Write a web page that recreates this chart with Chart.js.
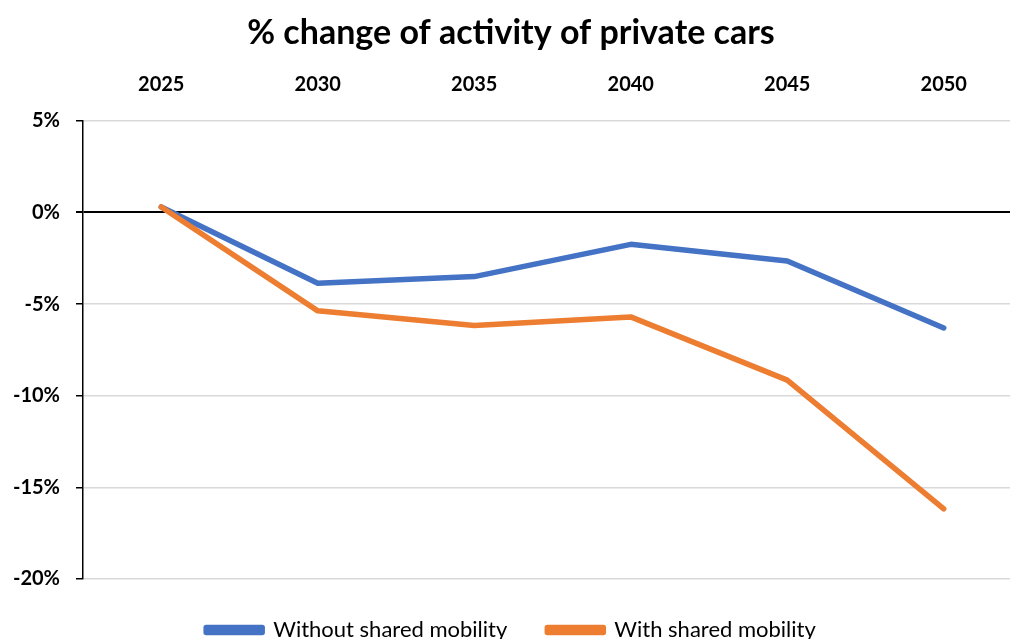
<!DOCTYPE html>
<html>
<head>
<meta charset="utf-8">
<script src="https://cdn.jsdelivr.net/npm/chart.js@4"></script>
<style>
  html, body { margin: 0; padding: 0; background: #fff; overflow: hidden; }
</style>
</head>
<body>
<canvas id="carsChart" width="1030" height="651"></canvas>
<script>
const years = ["2025", "2030", "2035", "2040", "2045", "2050"];
const withoutShared = [0.3, -3.86, -3.5, -1.74, -2.65, -6.3];
const withShared = [0.3, -5.37, -6.17, -5.7, -9.15, -16.17];
const yTicks = [5, 0, -5, -10, -15, -20];

const FONT = "Lato, 'Open Sans', sans-serif";

new Chart(document.getElementById("carsChart"), {
  type: "line",
  data: {
    labels: years,
    datasets: [
      {
        label: "Without shared mobility",
        data: withoutShared,
        borderColor: "#4472C4",
        backgroundColor: "#4472C4",
        borderWidth: 5.5,
        pointRadius: 0,
        borderCapStyle: "round",
        borderJoinStyle: "round",
        tension: 0,
        order: 1
      },
      {
        label: "With shared mobility",
        data: withShared,
        borderColor: "#ED7D31",
        backgroundColor: "#ED7D31",
        borderWidth: 5.5,
        pointRadius: 0,
        borderCapStyle: "round",
        borderJoinStyle: "round",
        tension: 0,
        order: 0
      }
    ]
  },
  options: {
    responsive: false,
    animation: false,
    layout: { padding: { left: 0, right: 8, top: 0, bottom: 0 } },
    plugins: {
      title: {
        display: true,
        text: "% change of activity of private cars",
        color: "#000",
        font: { family: FONT, size: 34, weight: "bold" },
        padding: { top: 13, bottom: 0 }
      },
      legend: {
        position: "bottom",
        labels: {
          boxWidth: 56,
          boxHeight: 5,
          padding: 40,
          color: "#000",
          font: { family: FONT, size: 22 },
          sort: (a, b) => a.datasetIndex - b.datasetIndex
        }
      },
      tooltip: { enabled: false }
    },
    scales: {
      x: {
        position: "top",
        offset: true,
        grid: { display: false, drawTicks: false },
        border: { display: false },
        ticks: {
          color: "#000",
          padding: 24,
          font: { family: FONT, size: 20, weight: "bold" }
        },
        afterFit: (scale) => { scale.height = 121 - 13 - 41; }
      },
      y: {
        min: -20,
        max: 5,
        afterBuildTicks: (scale) => {
          scale.ticks = yTicks.map(v => ({ value: v }));
        },
        grid: {
          color: (ctx) => ctx.tick && ctx.tick.value === 0 ? "#000" : "#d9d9d9",
          lineWidth: (ctx) => ctx.tick && ctx.tick.value === 0 ? 2 : 1.5,
          tickColor: "#000",
          tickLength: 7
        },
        border: { display: true, color: "#000", width: 1.5 },
        ticks: {
          color: "#000",
          padding: 16,
          font: { family: FONT, size: 20, weight: "bold" },
          callback: (v) => v + "%"
        },
        afterFit: (scale) => { scale.width = 83; }
      }
    }
  }
});
</script>
</body>
</html>
